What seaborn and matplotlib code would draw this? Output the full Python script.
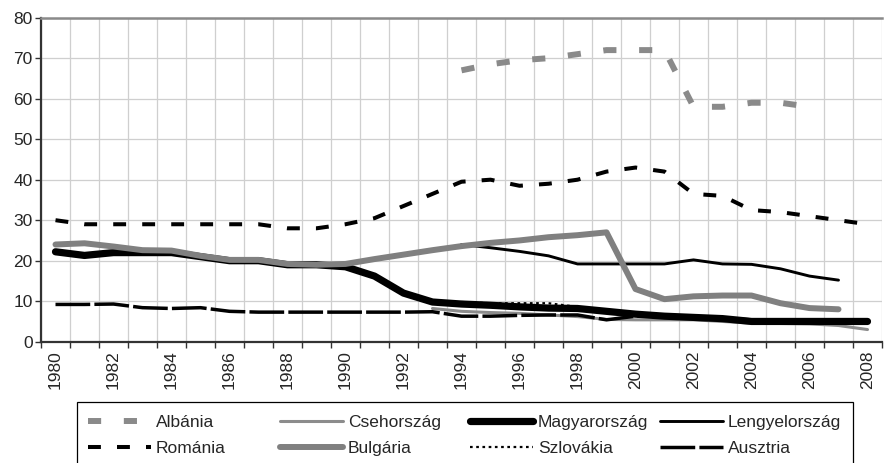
import numpy as np
import pandas as pd
import matplotlib
matplotlib.use("Agg")
import matplotlib.pyplot as plt
import seaborn as sns
from matplotlib.ticker import FixedLocator, MultipleLocator
from matplotlib.patches import Rectangle

years = list(range(1980, 2009))

albania_years = list(range(1994, 2007))
albania = [67, 68.5, 69.5, 70, 71, 72, 72, 72, 58, 58, 59, 59, 58]

romania_years = list(range(1980, 2009))
romania = [30, 29, 29, 29, 29, 29, 29, 29, 28, 28, 29, 30.5, 33.5, 36.5, 39.5,
           40, 38.5, 39, 40, 42, 43, 42, 36.5, 36, 32.5, 32, 31, 30, 29]

cseh_years = list(range(1993, 2009))
cseh = [8.2, 7.5, 7.2, 7, 6.6, 6.2, 5.5, 5.4, 5.4, 5.4, 5, 4.6, 4.5, 4.4, 4, 3]

bulgaria_years = list(range(1980, 2008))
bulgaria = [24, 24.3, 23.5, 22.6, 22.5, 21.2, 20.2, 20.2, 19.2, 19, 19.2, 20.4, 21.5, 22.6,
            23.6, 24.4, 25, 25.8, 26.3, 27, 13, 10.5, 11.2, 11.4, 11.4, 9.5, 8.3, 8]

magyar_years = list(range(1980, 2009))
magyar = [22.2, 21.3, 22, 22, 22, 21, 20, 20, 19, 19, 18.5, 16.2, 12, 9.8, 9.3,
          9, 8.6, 8.3, 8.2, 7.5, 6.8, 6.3, 6, 5.7, 5, 5, 5, 5, 5]

szlovakia_years = list(range(1994, 2009))
szlovakia = [9.8, 9.5, 9.5, 9.5, 8.6, 7.6, 7, 6.5, 6.1, 6, 5.2, 5, 4.8, 4.8, 4.8]

lengyel_years = list(range(1994, 2008))
lengyel = [24, 23.2, 22.3, 21.2, 19.2, 19.2, 19.2, 19.2, 20.2, 19.2, 19.1, 18, 16.2, 15.2]

ausztria_years = list(range(1980, 2009))
ausztria = [9.2, 9.2, 9.3, 8.4, 8.2, 8.4, 7.5, 7.3, 7.3, 7.3, 7.3, 7.3, 7.3, 7.4,
            6.3, 6.3, 6.5, 6.6, 6.6, 5.4, 6.3, 6.5, 6.2, 5.8, 5.4, 5.2, 5, 5, 5]

series = [
    # name, years, values, color, lw, linestyle
    ("Albánia", albania_years, albania, "#8a8a8a", 4.3, (0, (2.2, 3.8))),
    ("Csehország", cseh_years, cseh, "#8c8c8c", 2.2, "-"),
    ("Magyarország", magyar_years, magyar, "#000000", 5.2, "-"),
    ("Lengyelország", lengyel_years, lengyel, "#000000", 2.1, "-"),
    ("Románia", romania_years, romania, "#000000", 2.9, (0, (3.2, 4.0))),
    ("Bulgária", bulgaria_years, bulgaria, "#808080", 4.3, "-"),
    ("Szlovákia", szlovakia_years, szlovakia, "#000000", 1.6, (0, (1.2, 1.6))),
    ("Ausztria", ausztria_years, ausztria, "#000000", 2.5, (0, (10, 1.2))),
]

sns.set_theme(style="white")
plt.rcParams['font.family'] = ['Liberation Sans', 'DejaVu Sans']

fig = plt.figure(figsize=(8.84, 4.63), dpi=100)
ax = fig.add_axes([41 / 884, 1 - 341.7 / 463, 841 / 884, 324 / 463])

handles = {}
for name, yrs, vals, color, lw, ls in series:
    df = pd.DataFrame({"x": [y - 1980 for y in yrs], "y": vals})
    sns.lineplot(data=df, x="x", y="y", ax=ax, color=color, linewidth=lw,
                 linestyle=ls, legend=False, solid_joinstyle="round")
    handles[name] = ax.lines[-1]

ax.set_xlim(-0.5, 28.5)
ax.set_ylim(0, 80)
ax.set_xlabel("")
ax.set_ylabel("")

ax.xaxis.set_major_locator(FixedLocator(list(range(0, 29, 2))))
ax.set_xticklabels([str(y) for y in years[::2]], rotation=90, fontsize=12.5)
ax.xaxis.set_minor_locator(FixedLocator([i - 0.5 for i in range(30)]))
ax.tick_params(axis="x", which="major", length=0, pad=6)
ax.tick_params(axis="x", which="minor", length=4, width=1, color="#333333", direction="out", bottom=True)
ax.yaxis.set_major_locator(MultipleLocator(10))
ax.tick_params(axis="y", which="major", length=4, width=1, color="#333333", direction="out", left=True, labelsize=12.5, pad=2)

ax.grid(False)
ax.xaxis.grid(True, which="minor", color="#cfcfcf", linewidth=0.9)
ax.yaxis.grid(True, which="major", color="#cfcfcf", linewidth=0.9)
ax.set_axisbelow(True)

for s in ["left", "bottom"]:
    ax.spines[s].set_visible(True)
    ax.spines[s].set_color("#333333")
    ax.spines[s].set_linewidth(1.6)
ax.spines["top"].set_color("#8a8a8a")
ax.spines["top"].set_linewidth(1.8)
ax.spines["right"].set_visible(False)

# legend frame (extends below the figure edge as in the reference)
W, H = 884.0, 463.0
fig.patches.append(Rectangle((77 / W, -0.05), 776 / W, (463 - 402) / H + 0.05,
                             transform=fig.transFigure, fill=False,
                             edgecolor="#000000", linewidth=0.9))

columns = [
    (88, ["Albánia", "Románia"]),
    (280, ["Csehország", "Bulgária"]),
    (470, ["Magyarország", "Szlovákia"]),
    (660, ["Lengyelország", "Ausztria"]),
]
for xpx, names in columns:
    fig.legend([handles[n] for n in names], names, loc="upper left",
               bbox_to_anchor=(xpx / W, 1 - 415 / H), bbox_transform=fig.transFigure,
               fontsize=12.5, frameon=False, handlelength=3.6, handletextpad=0.3,
               labelspacing=0.62, borderpad=0, borderaxespad=0)

fig.savefig("out.png", dpi=100)
